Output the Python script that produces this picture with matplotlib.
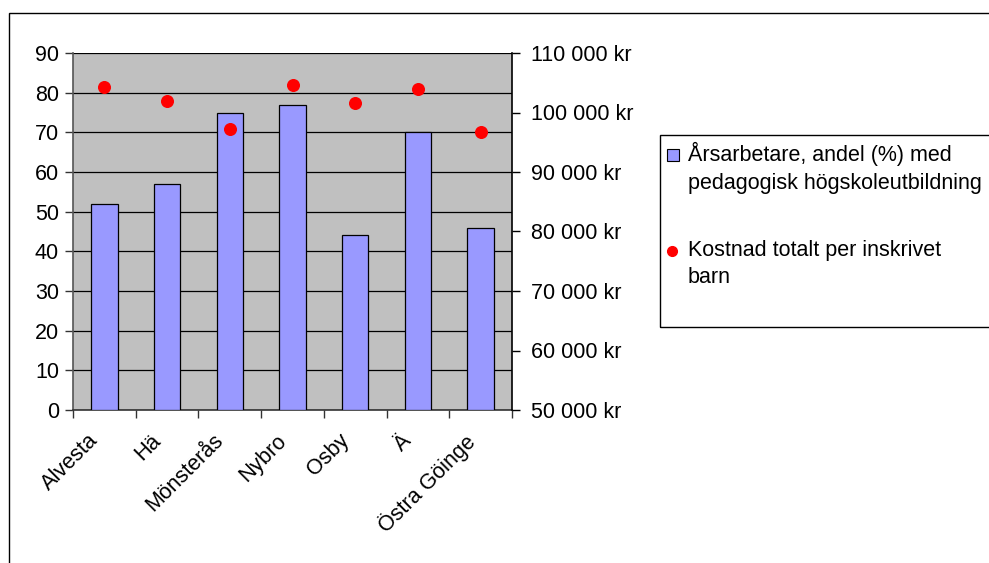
import matplotlib.pyplot as plt
import numpy as np
from matplotlib.patches import Rectangle
from matplotlib.lines import Line2D
from matplotlib.ticker import FuncFormatter
from matplotlib.transforms import ScaledTranslation

plt.rcParams["font.family"] = ["Liberation Sans", "DejaVu Sans"]

# --- data
kommuner = ["Alvesta", "Hä", "Mönsterås", "Nybro", "Osby", "Ä", "Östra Göinge"]
andel_pedagog = [52, 57, 75, 77, 44, 70, 46]
kostnad_per_barn = [104300, 102000, 97300, 104700, 101600, 104000, 96800]

label_bar = "Årsarbetare, andel (%) med\npedagogisk högskoleutbildning"
label_dot = "Kostnad totalt per inskrivet\nbarn"

W, H = 989, 563
FS = 15.5
fig = plt.figure(figsize=(W / 100, H / 100), dpi=100)

# outer chart border (runs off the right and bottom edges)
fig.patches.append(Rectangle((8.5 / W, -0.05), 1.1, 1 - 12.5 / H + 0.05,
                             transform=fig.transFigure, fill=False,
                             edgecolor="black", linewidth=1.0))

ax = fig.add_axes([73 / W, 1 - 410 / H, (512 - 73) / W, (410 - 53) / H])
ax.set_facecolor("#C0C0C0")

x = np.arange(len(kommuner)) + 0.5
bars = ax.bar(x, andel_pedagog, width=0.42, color="#9999FF",
              edgecolor="black", linewidth=0.9, zorder=3)

ax.set_xlim(0, len(kommuner))
ax.set_ylim(0, 90)
ax.set_yticks(range(0, 91, 10))
ax.yaxis.grid(True, color="black", linewidth=0.9, zorder=0)
ax.set_axisbelow(True)
ax.set_xticks(range(len(kommuner) + 1))
ax.set_xticklabels([])
ax.set_xticks(x, minor=True)
ax.set_xticklabels(kommuner, minor=True, rotation=45, ha="right",
                   rotation_mode="anchor", fontsize=FS)
ax.tick_params(axis="x", which="minor", length=0, pad=8)
ax.tick_params(axis="x", which="major", length=6, width=1, color="#333333")
ax.tick_params(axis="y", length=6, width=1, color="#333333", labelsize=FS, pad=4)

# nudge category labels left/down like the original
shift = ScaledTranslation(-17 / 100, -9 / 100, fig.dpi_scale_trans)
for lbl in ax.get_xticklabels(minor=True):
    lbl.set_transform(lbl.get_transform() + shift)

for s in ["top", "right"]:
    ax.spines[s].set_visible(False)
ax.spines["left"].set_color("#555555")
ax.spines["left"].set_linewidth(1.2)
ax.spines["bottom"].set_color("#333333")
ax.spines["bottom"].set_linewidth(1.2)

ax2 = ax.twinx()
dots = ax2.scatter(x, kostnad_per_barn, s=70, color="#FF0000", zorder=4)
ax2.set_ylim(50000, 110000)
ax2.set_yticks(range(50000, 110001, 10000))
ax2.yaxis.set_major_formatter(FuncFormatter(lambda v, p: f"{int(v):,} kr".replace(",", " ")))
ax2.tick_params(axis="y", length=6, width=1, color="black", labelsize=FS, pad=8)
for s in ["top", "left", "bottom"]:
    ax2.spines[s].set_visible(False)
ax2.spines["right"].set_color("black")
ax2.spines["right"].set_linewidth(1.2)

# legend box, clipped at the right edge; handles sit on the first text line
fig.patches.append(Rectangle((659.5 / W, 1 - 327 / H), 0.5, (327 - 135) / H,
                             transform=fig.transFigure, fill=False,
                             edgecolor="black", linewidth=1.0))
fig.add_artist(Line2D([673 / W], [1 - 155 / H], marker="s", linestyle="none",
                      markersize=9, markerfacecolor="#9999FF",
                      markeredgecolor="black", markeredgewidth=0.8,
                      transform=fig.transFigure))
fig.add_artist(Line2D([672 / W], [1 - 251 / H], marker="o", linestyle="none",
                      markersize=7, markerfacecolor="#FF0000",
                      markeredgecolor="#FF0000", transform=fig.transFigure))
fig.text(688 / W, 1 - 142 / H, label_bar, fontsize=FS, va="top", linespacing=1.4)
fig.text(688 / W, 1 - 240 / H, label_dot, fontsize=FS, va="top", linespacing=1.4)

fig.savefig("out.png", dpi=100)
